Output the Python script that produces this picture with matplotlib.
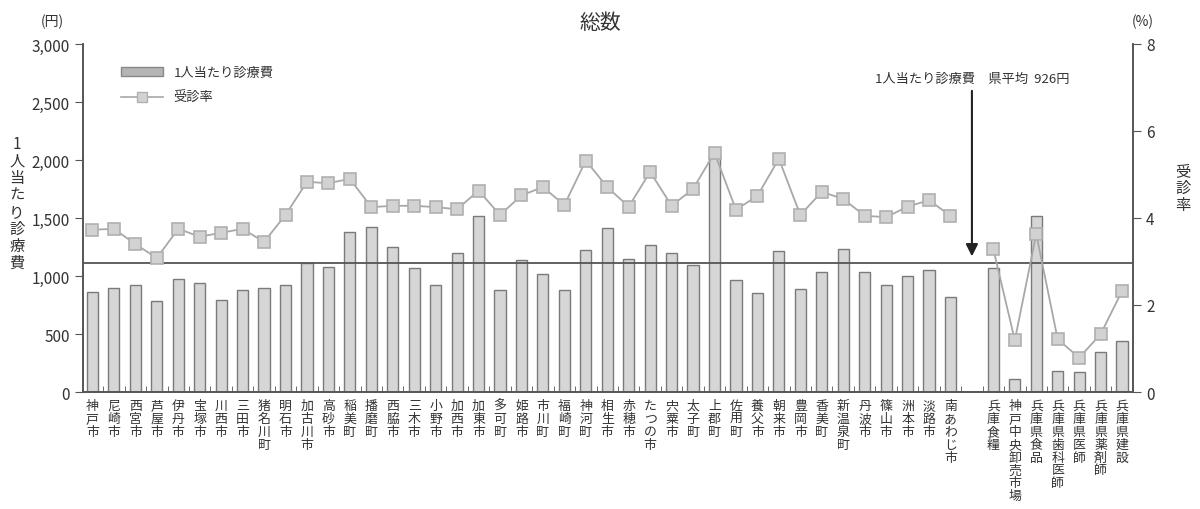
import matplotlib
matplotlib.use("Agg")
import matplotlib.pyplot as plt
from matplotlib.lines import Line2D
from matplotlib.patches import Patch
from matplotlib.ticker import FuncFormatter, FixedLocator
import numpy as np

plt.rcParams["font.family"] = ["Noto Sans CJK JP", "DejaVu Sans"]

TEXT = "#333333"
AXIS = "#555555"
BAR_FACE = "#d6d6d6"
BAR_EDGE = "#7a7a7a"
LINE = "#a8a8a8"

# ── data ──
towns = ["神戸市", "尼崎市", "西宮市", "芦屋市", "伊丹市", "宝塚市", "川西市", "三田市",
         "猪名川町", "明石市", "加古川市", "高砂市", "稲美町", "播磨町", "西脇市", "三木市",
         "小野市", "加西市", "加東市", "多可町", "姫路市", "市川町", "福崎町", "神河町",
         "相生市", "赤穂市", "たつの市", "宍粟市", "太子町", "上郡町", "佐用町", "養父市",
         "朝来市", "豊岡市", "香美町", "新温泉町", "丹波市", "篠山市", "洲本市", "淡路市",
         "南あわじ市"]
town_cost = [860, 900, 920, 785, 975, 940, 790, 880, 895, 925, 1115, 1080, 1380, 1420,
             1250, 1070, 920, 1200, 1515, 880, 1135, 1015, 880, 1225, 1410, 1150, 1265,
             1200, 1095, 2050, 965, 855, 1215, 885, 1035, 1230, 1035, 925, 1000, 1050, 820]
town_rate = [3.73, 3.75, 3.40, 3.08, 3.75, 3.57, 3.66, 3.75, 3.45, 4.07, 4.83, 4.80,
             4.90, 4.25, 4.28, 4.28, 4.25, 4.20, 4.63, 4.07, 4.52, 4.71, 4.30, 5.32,
             4.71, 4.26, 5.06, 4.28, 4.67, 5.50, 4.19, 4.51, 5.36, 4.07, 4.60, 4.44,
             4.05, 4.02, 4.26, 4.41, 4.05]

unions = ["兵庫食糧", "神戸中央卸売市場", "兵庫県食品", "兵庫県歯科医師", "兵庫県医師",
          "兵庫県薬剤師", "兵庫県建設"]
union_cost = [1065, 115, 1515, 185, 175, 345, 440]
union_rate = [3.28, 1.19, 3.63, 1.21, 0.79, 1.33, 2.32]

pref_avg_line = 1110
avg_label = "1人当たり診療費　県平均  926円"

# positions: one empty slot between the two groups
x_town = np.arange(len(towns))
x_union = np.arange(len(unions)) + len(towns) + 1
gap_x = len(towns)

fig = plt.figure(figsize=(12, 5.1), dpi=100)
ax = fig.add_axes([0.069, 0.2294, 0.875, 0.6824])
ax2 = ax.twinx()

bar_kw = dict(width=0.52, color=BAR_FACE, edgecolor=BAR_EDGE, linewidth=1.0, zorder=2)
ax.bar(x_town, town_cost, **bar_kw)
ax.bar(x_union, union_cost, **bar_kw)

ax.axhline(pref_avg_line, color=AXIS, linewidth=1.3, zorder=3)

line_kw = dict(color=LINE, linewidth=1.3, marker="s", markersize=8.5,
               markerfacecolor="#d2d2d2", markeredgecolor="#b0b0b0", markeredgewidth=1.2,
               zorder=4)
ax2.plot(x_town, town_rate, **line_kw)
ax2.plot(x_union, union_rate, **line_kw)

# axes
ax.set_xlim(-0.45, x_union[-1] + 0.5)
ax.set_ylim(0, 3000)
ax2.set_ylim(0, 8)
ax.set_yticks(np.arange(0, 3001, 500))
ax.yaxis.set_major_formatter(FuncFormatter(lambda v, p: f"{int(v):,}"))
ax2.set_yticks([0, 2, 4, 6, 8])

labels = towns + [""] + unions
xs = list(x_town) + [gap_x] + list(x_union)
ax.set_xticks(xs)
ax.set_xticklabels(["\n".join(s) for s in labels], fontsize=9.3, color=TEXT,
                   linespacing=0.99, va="top")
ax.tick_params(axis="x", length=0, pad=5)
ax.xaxis.set_minor_locator(FixedLocator(np.arange(-0.5, x_union[-1] + 1, 1.0)))
ax.tick_params(axis="x", which="minor", direction="in", length=4, color=AXIS)
ax.tick_params(axis="y", colors=TEXT, labelsize=11, length=6, color=AXIS)
ax2.tick_params(axis="y", colors=TEXT, labelsize=11, length=6, color=AXIS)

for a in (ax, ax2):
    a.spines["top"].set_visible(False)
    for s in ("left", "right", "bottom"):
        a.spines[s].set_color(AXIS)
        a.spines[s].set_linewidth(1.2)

# titles and units
fig.text(0.5, 0.955, "総数", ha="center", va="center", fontsize=15, color=TEXT)
fig.text(0.044, 0.958, "(円)", ha="center", va="center", fontsize=10, color=TEXT)
fig.text(0.952, 0.958, "(%)", ha="center", va="center", fontsize=10, color=TEXT)
fig.text(0.014, 0.6, "\n".join("1人当たり診療費"), ha="center", va="center",
         fontsize=11, color=TEXT, linespacing=1.0)
fig.text(0.986, 0.63, "\n".join("受診率"), ha="center", va="center",
         fontsize=11, color=TEXT, linespacing=1.0)

# average annotation
ax.annotate("", xy=(gap_x, pref_avg_line + 35), xytext=(gap_x, 2620),
            arrowprops=dict(arrowstyle="-|>", color="#222222", lw=1.5,
                            mutation_scale=18), zorder=5)
ax.text(gap_x, 2700, avg_label, ha="center", va="center", fontsize=9.5, color=TEXT)

# legend
handles = [Patch(facecolor="#b5b5b5", edgecolor="#888888"),
           Line2D([], [], color=LINE, lw=1.2, marker="s", markersize=7,
                  markerfacecolor="#d2d2d2", markeredgecolor="#b0b0b0")]
ax.legend(handles, ["1人当たり診療費", "受診率"], loc="upper left",
          bbox_to_anchor=(0.025, 0.97), frameon=False, fontsize=9.5,
          handlelength=3.2, labelcolor=TEXT, labelspacing=0.9)

fig.savefig("out.png", dpi=100, facecolor="white")
